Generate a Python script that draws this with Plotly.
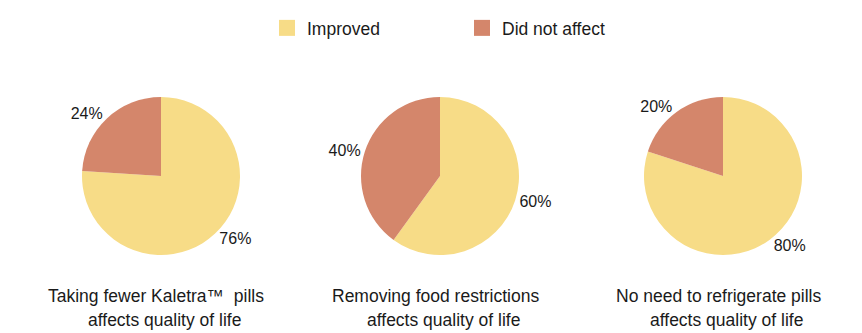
import plotly.graph_objects as go

categories = ["Improved", "Did not affect"]
pie_titles = [
    ("Taking fewer Kaletra™  pills", "affects quality of life"),
    ("Removing food restrictions", "affects quality of life"),
    ("No need to refrigerate pills", "affects quality of life"),
]
improved = [76, 60, 80]
not_affect = [24, 40, 20]
colors = ["#F7DC87", "#D4866B"]

W, H = 862, 333
centers_px = [161, 440, 723]
cy_px = 176
r_px = 79

fig = go.Figure()
for i in range(3):
    cx = centers_px[i] / W
    dx = r_px / W
    cyp = 1 - cy_px / H
    dy = r_px / H
    fig.add_trace(go.Pie(
        labels=categories,
        values=[improved[i], not_affect[i]],
        sort=False,
        direction="clockwise",
        rotation=0,
        marker=dict(colors=colors, line=dict(width=0)),
        textposition="outside",
        texttemplate="%{value}%",
        textfont=dict(size=16, color="#1a1a1a", family="Liberation Sans, Arial, sans-serif"),
        domain=dict(x=[cx - dx, cx + dx], y=[cyp - dy, cyp + dy]),
        showlegend=False,
        hoverinfo="label+percent",
    ))
    fig.add_annotation(x=(centers_px[i] - 5) / W, y=1 - 296 / H, xref="paper", yref="paper",
                       text=pie_titles[i][0], showarrow=False, xanchor="center", yanchor="middle",
                       font=dict(size=17.5, color="#1a1a1a"))
    fig.add_annotation(x=(centers_px[i] + 3) / W, y=1 - 320 / H, xref="paper", yref="paper",
                       text=pie_titles[i][1], showarrow=False, xanchor="center", yanchor="middle",
                       font=dict(size=17.5, color="#1a1a1a"))

# legend entries (square swatches)
for name, col in zip(categories, colors):
    fig.add_trace(go.Scatter(
        x=[None], y=[None], mode="markers", name=name,
        marker=dict(symbol="square", size=20, color=col, line=dict(width=0)),
        showlegend=True, hoverinfo="skip",
    ))

fig.update_layout(
    width=W, height=H,
    margin=dict(l=0, r=0, t=0, b=0),
    paper_bgcolor="white",
    plot_bgcolor="white",
    xaxis=dict(visible=False),
    yaxis=dict(visible=False),
    font=dict(family="Liberation Sans, Arial, sans-serif", size=16, color="#1a1a1a"),
    legend=dict(
        orientation="h",
        x=(315 - 48) / W, xanchor="left",
        y=1 - 28 / H, yanchor="middle",
        entrywidth=150,
        font=dict(size=17.5),
    ),
)

fig.write_html("out.html", config={"displayModeBar": False},
               post_script="document.body.style.margin='0';document.body.style.overflow='hidden';")
